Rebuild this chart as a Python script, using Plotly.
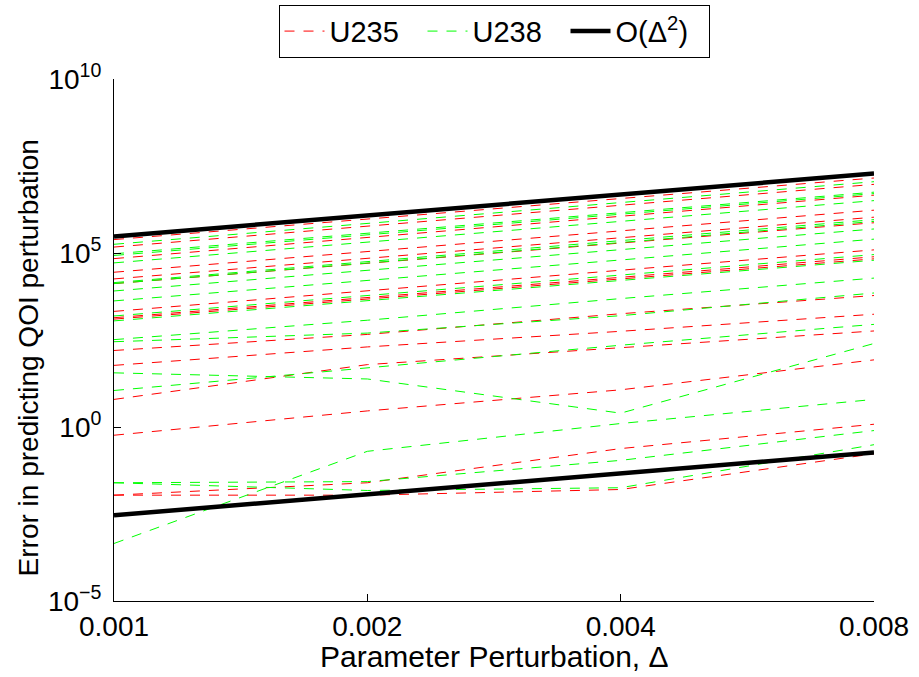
import plotly.graph_objects as go

# Parameter perturbation (x)
delta = [0.001, 0.002, 0.004, 0.008]

# Error in predicting QOI perturbation, U235 parameters (red dashed)
u235 = [
    [2.43e5, 9.3e5, 3.7e6, 1.43e7],
    [1.48e5, 5.9e5, 2.34e6, 9.4e6],
    [6.9e4, 2.8e5, 1.15e6, 4.6e6],
    [2.8e4, 1.1e5, 4.4e5, 1.7e6],
    [1.8e4, 7.1e4, 2.8e5, 1.07e6],
    [1.32e4, 5.0e4, 1.95e5, 7.4e5],
    [2.1e3, 8.3e3, 3.2e4, 1.23e5],
    [1.38e3, 5.2e3, 2.0e4, 7.8e4],
    [1.26e3, 4.8e3, 1.8e4, 6.8e4],
    [158, 457, 1.8e3, 6.0e3],
    [59, 200, 562, 1.74e3],
    [6.2, 62, 190, 575],
    [0.58, 2.9, 11.7, 85],
    [0.011, 0.025, 0.24, 1.2],
    [0.011, 0.011, 0.016, 0.17],
]

# Error in predicting QOI perturbation, U238 parameters (green dashed)
u238 = [
    [1.78e5, 7.1e5, 2.8e6, 1.12e7],
    [9.5e4, 3.7e5, 1.45e6, 5.6e6],
    [8.5e4, 3.3e5, 1.32e6, 5.1e6],
    [5.2e4, 2.1e5, 8.1e5, 3.2e6],
    [1.41e4, 5.6e4, 2.3e5, 9.1e5],
    [1.32e4, 5.1e4, 2.0e5, 8.1e5],
    [8.1e3, 3.2e4, 1.26e5, 4.9e5],
    [4.2e3, 1.6e4, 6.3e4, 2.5e5],
    [1.55e3, 6.0e3, 2.3e4, 9.0e4],
    [1.12e3, 4.3e3, 1.6e4, 6.2e4],
    [324, 1.17e3, 4.9e3, 1.9e4],
    [282, 500, 1.58e3, 7.1e3],
    [11.2, 51, 224, 890],
    [36, 24, 2.5, 251],
    [4.5e-4, 0.20, 1.26, 6.2],
    [0.025, 0.027, 0.11, 0.79],
    [0.025, 0.015, 0.018, 0.31],
]

# O(Delta^2) reference lines
ref_upper = [3.0e5, 1.2e6, 4.8e6, 1.92e7]
ref_lower = [2.9e-3, 1.16e-2, 4.64e-2, 0.1856]

y_tickvals = [1e-5, 1e0, 1e5, 1e10]
y_ticktext = ["10<sup>\u22125</sup>", "10<sup>0</sup>", "10<sup>5</sup>", "10<sup>10</sup>"]
x_tickvals = [0.001, 0.002, 0.004, 0.008]
x_ticktext = ["0.001", "0.002", "0.004", "0.008"]

FONT = "Liberation Sans, Arial, Helvetica, sans-serif"

fig = go.Figure()

for i, ys in enumerate(u235):
    fig.add_trace(go.Scatter(
        x=delta, y=ys, mode="lines",
        line=dict(color="#ff0000", width=1, dash="10px,9px"),
        name="U235", legendgroup="u235", showlegend=(i == 0),
        hoverinfo="skip"))

for i, ys in enumerate(u238):
    fig.add_trace(go.Scatter(
        x=delta, y=ys, mode="lines",
        line=dict(color="#00ff00", width=1, dash="10px,9px"),
        name="U238", legendgroup="u238", showlegend=(i == 0),
        hoverinfo="skip"))

for i, ys in enumerate([ref_upper, ref_lower]):
    fig.add_trace(go.Scatter(
        x=delta, y=ys, mode="lines",
        line=dict(color="black", width=4.5),
        name="O(\u0394<sup>2</sup>)", legendgroup="ref", showlegend=(i == 0),
        hoverinfo="skip"))

fig.update_layout(
    width=919, height=677,
    margin=dict(l=114, r=45, t=79, b=76, autoexpand=False),
    paper_bgcolor="white", plot_bgcolor="white",
    font=dict(family=FONT, size=28, color="black"),
    showlegend=True,
    legend=dict(
        orientation="h", x=0.5, xanchor="center",
        yref="container", y=0.993, yanchor="top",
        bordercolor="black", borderwidth=1, bgcolor="white",
        font=dict(family=FONT, size=29, color="black"),
        traceorder="normal", itemwidth=40,
        entrywidthmode="pixels", entrywidth=88,
        tracegroupgap=0,
    ),
)

fig.update_xaxes(
    type="log", range=[-3, -2.09691],
    tickvals=x_tickvals, ticktext=x_ticktext,
    ticks="inside", ticklen=7, tickwidth=1, tickcolor="black",
    showline=True, linecolor="black", linewidth=1, mirror=False,
    showgrid=False, zeroline=False,
    tickfont=dict(family=FONT, size=28, color="black"),
)
fig.update_yaxes(
    type="log", range=[-5, 10],
    tickvals=y_tickvals, ticktext=y_ticktext,
    ticks="inside", ticklen=7, tickwidth=1, tickcolor="black",
    showline=True, linecolor="black", linewidth=1, mirror=False,
    showgrid=False, zeroline=False,
    tickfont=dict(family=FONT, size=28, color="black"),
    ticklabelstandoff=6,
)

fig.add_annotation(
    text="Parameter Perturbation, \u0394", xref="paper", yref="paper",
    x=0.5, y=-0.106, xanchor="center", yanchor="middle", showarrow=False,
    font=dict(family=FONT, size=30, color="black"))
fig.add_annotation(
    text="Error in predicting QOI perturbation", xref="paper", yref="paper",
    x=-0.113, y=0.465, xanchor="center", yanchor="middle", showarrow=False,
    textangle=-90, font=dict(family=FONT, size=28, color="black"))

fig.write_html("out.html")
